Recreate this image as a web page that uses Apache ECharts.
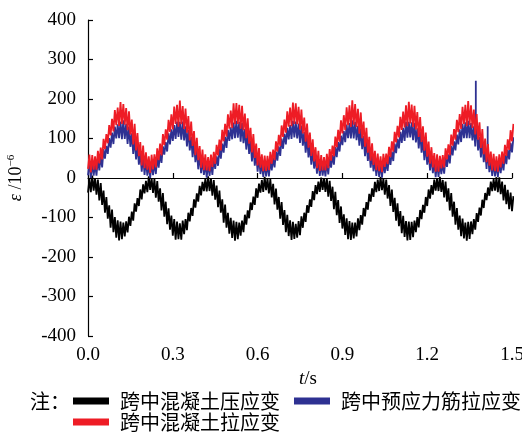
<!DOCTYPE html>
<html>
<head>
<meta charset="utf-8">
<script src="https://cdn.jsdelivr.net/npm/echarts@6/dist/echarts.min.js"></script>
<style>html,body{margin:0;padding:0;background:#fff;}#c{width:522px;height:435px;}</style>
</head>
<body>
<div id="c"></div>
<script>
// sample times: 0.00 .. 1.50 s, step 0.01 s
const tStep = 0.01;
const xTicks = ['0.0', '0.3', '0.6', '0.9', '1.2', '1.5'];
const names = ['跨中混凝土压应变', '跨中预应力筋拉应变', '跨中混凝土拉应变'];

// band centre values, 10^-6
const redCenter = [
  41,36,38,45,57,73,92,111,129,145,
  156,162,162,156,145,129,111,92,73,57,
  45,38,36,41,51,66,84,103,122,139,
  152,161,163,159,150,136,119,100,80,63,
  49,40,36,38,47,60,77,96,115,133,
  148,158,163,161,154,142,126,107,88,69,
  54,43,37,37,43,54,69,88,107,126,
  142,154,161,163,158,148,133,115,96,77,
  60,47,38,36,40,49,63,80,100,119,
  136,150,159,163,161,152,139,122,103,84,
  66,51,41,36,38,45,57,73,92,111,
  129,145,156,162,162,156,145,129,111,92,
  73,57,45,38,36,41,51,66,84,103,
  122,139,152,161,163,159,150,136,119,100,
  80,63,49,40,36,38,47,60,77,96,
  115];
const redSpread = [
  18,22,17,24,20,26,19,23,21,27,
  22,30,25,21,24,19,26,22,18,25,
  20,17,23,19,24,21,27,20,25,22,
  29,24,33,23,26,21,24,19,22,18,
  23,20,17,21,19,24,20,26,22,28,
  23,31,27,24,29,21,25,20,23,18,
  22,17,20,19,23,18,24,21,26,22,
  27,24,30,26,22,25,20,23,19,21,
  18,22,20,17,21,24,19,25,22,27,
  23,29,25,34,26,23,27,21,24,20,
  22,18,21,19,23,17,22,20,25,21,
  26,23,28,31,24,27,22,25,20,23,
  19,21,18,22,20,17,24,19,26,21,
  25,23,28,24,32,25,23,26,22,24,
  20,23,18,21,19,22,20,24,21,25,
  22];

const blueCenter = [
  24,20,21,27,37,50,65,81,96,108,
  118,122,122,118,108,96,81,65,50,37,
  27,21,20,24,32,44,59,75,90,104,
  114,121,123,120,113,101,87,72,56,42,
  30,23,20,22,29,39,53,68,84,99,
  111,119,123,122,116,106,93,78,62,47,
  35,25,21,21,25,35,47,62,78,93,
  106,116,122,123,119,111,99,84,68,53,
  39,29,22,20,23,30,42,56,72,87,
  101,113,120,123,121,114,104,90,75,59,
  44,32,24,20,21,27,37,50,65,81,
  96,108,118,122,122,118,108,96,81,65,
  50,37,27,21,20,24,32,44,59,75,
  90,104,114,121,123,120,113,101,87,72,
  56,42,30,23,20,22,29,39,53,68,
  84];
const blueSpread = [
  17,20,15,21,18,23,16,20,19,22,
  18,21,24,19,22,17,20,18,16,21,
  19,15,20,17,22,18,21,16,23,19,
  20,22,19,23,18,21,17,19,16,20,
  18,15,19,17,21,16,22,19,20,23,
  17,21,22,20,24,18,21,17,20,16,
  19,15,18,17,21,16,20,18,22,19,
  21,18,23,20,19,22,17,20,16,19,
  15,18,17,14,19,21,16,22,19,20,
  18,22,19,23,21,18,22,17,20,16,
  18,15,19,17,20,15,19,17,22,18,
  21,19,24,20,19,22,18,21,17,20,
  16,18,15,19,17,14,21,16,22,18,
  20,19,23,20,22,19,18,21,17,20,
  16,19,15,18,16,19,17,20,18,21,
  19];
// isolated spikes of the tendon signal: [t, from, to]
const blueSpikes = [[1.372, 142, 246], [1.414, 92, 131]];

const blackCenter = [
  -20,-15,-16,-23,-35,-50,-68,-86,-103,-118,
  -129,-134,-134,-129,-118,-103,-86,-68,-50,-35,
  -23,-16,-15,-20,-29,-43,-60,-79,-97,-113,
  -125,-133,-135,-132,-123,-110,-93,-75,-57,-40,
  -27,-18,-15,-17,-25,-37,-53,-71,-90,-107,
  -121,-130,-135,-134,-127,-115,-100,-82,-64,-47,
  -32,-21,-16,-16,-21,-32,-47,-64,-82,-100,
  -115,-127,-134,-135,-130,-121,-107,-90,-71,-53,
  -37,-25,-17,-15,-18,-27,-40,-57,-75,-93,
  -110,-123,-132,-135,-133,-125,-113,-97,-79,-60,
  -43,-29,-20,-15,-16,-23,-35,-50,-68,-86,
  -103,-118,-129,-134,-134,-129,-118,-103,-86,-68,
  -50,-35,-23,-16,-15,-20,-29,-43,-60,-79,
  -97,-113,-125,-133,-135,-132,-123,-110,-93,-75,
  -57,-40,-27,-18,-15,-17,-25,-37,-48,-58,
  -65];
const blackSpread = [
  17,21,16,19,22,18,20,17,23,19,
  22,24,21,19,20,18,22,17,21,19,
  16,20,15,18,21,17,22,19,20,18,
  21,23,20,24,19,22,17,21,18,20,
  17,15,19,16,20,18,21,17,23,19,
  20,22,24,21,19,22,18,20,17,21,
  18,16,19,15,18,17,20,16,21,19,
  22,20,23,19,21,24,19,21,17,20,
  19,16,18,15,17,20,18,22,19,21,
  18,21,23,22,20,23,19,21,18,20,
  17,19,16,18,15,19,17,21,18,22,
  19,22,20,24,23,21,19,22,18,20,
  21,17,19,16,18,15,20,17,22,19,
  21,18,22,20,24,22,19,21,18,20,
  19,16,18,15,17,19,16,20,18,21,
  19];

function band(center, spread, spikes) {
  const d = [];
  for (let i = 0; i < center.length; i++) {
    const t = +(i * tStep).toFixed(3);
    d.push([t, center[i] - spread[i]]);
    d.push([+(t + tStep / 2).toFixed(4), center[i] + spread[i]]);
  }
  (spikes || []).forEach(s => { d.push([s[0], s[1]], [s[0], s[2]], [s[0], s[1]]); });
  d.sort((a, b) => a[0] - b[0]);
  return d;
}

const colors = ['#000000', '#2e3192', '#ee1c25'];
const serif = 'Liberation Serif, Times New Roman, serif';
const cjk = 'Noto Sans CJK SC';

const chart = echarts.init(document.getElementById('c'), null, {renderer: 'canvas'});
const lineSeries = (name, data, color) => ({
  name, type: 'line', data, showSymbol: false, symbol: 'none',
  color, lineStyle: {width: 1.8, color}, itemStyle: {color},
  animation: false, clip: true, z: 2
});
const legendBase = {
  left: 73, itemWidth: 36, itemHeight: 7, icon: 'rect', itemGap: 14,
  selectedMode: false, padding: 0,
  textStyle: {fontSize: 20, fontFamily: cjk, color: '#000', padding: [0, 0, 0, 6]}
};
chart.setOption({
  backgroundColor: '#fff',
  animation: false,
  grid: {left: 88, right: 10, top: 20, bottom: 99, outerBoundsMode: 'none', containLabel: false},
  xAxis: {
    type: 'value', min: 0, max: 1.5, interval: 0.3,
    name: '{i|t}/s', nameLocation: 'middle', nameGap: 32,
    nameTextStyle: {fontFamily: serif, fontSize: 19, color: '#000', padding: [0, 0, 0, 16],
      rich: {i: {fontStyle: 'italic', fontFamily: serif, fontSize: 19, color: '#000'}}},
    axisLine: {lineStyle: {color: '#000', width: 1.2}},
    axisTick: {inside: true, length: 5, lineStyle: {color: '#000', width: 1.2}},
    axisLabel: {fontFamily: serif, fontSize: 19, color: '#000', margin: 10,
      formatter: v => xTicks[Math.round(v / 0.3)]},
    splitLine: {show: false}
  },
  yAxis: {
    type: 'value', min: -400, max: 400, interval: 100,
    name: '{e|ε} /10{s|−6}', nameLocation: 'middle', nameGap: 52,
    nameTextStyle: {fontFamily: serif, fontSize: 18, color: '#000', padding: [0, 0, 10, 0],
      rich: {e: {fontStyle: 'italic', fontFamily: serif, fontSize: 18, color: '#000'},
             s: {fontFamily: serif, fontSize: 11, color: '#000', padding: [0, 0, 9, 0]}}},
    axisLine: {show: true, lineStyle: {color: '#000', width: 1.2}},
    axisTick: {show: true, inside: true, length: 5, lineStyle: {color: '#000', width: 1.2}},
    axisLabel: {fontFamily: serif, fontSize: 19, color: '#000', margin: 12},
    splitLine: {show: false}
  },
  legend: [
    Object.assign({}, legendBase, {top: 391, data: [names[0], names[1]]}),
    Object.assign({}, legendBase, {top: 412, data: [names[2]]})
  ],
  graphic: [{
    type: 'text', left: 30, top: 391,
    style: {text: '注：', fontSize: 20, fontFamily: cjk, fill: '#000'}
  }],
  series: [
    lineSeries(names[0], band(blackCenter, blackSpread), colors[0]),
    lineSeries(names[1], band(blueCenter, blueSpread, blueSpikes), colors[1]),
    lineSeries(names[2], band(redCenter, redSpread), colors[2])
  ]
});
</script>
</body>
</html>
